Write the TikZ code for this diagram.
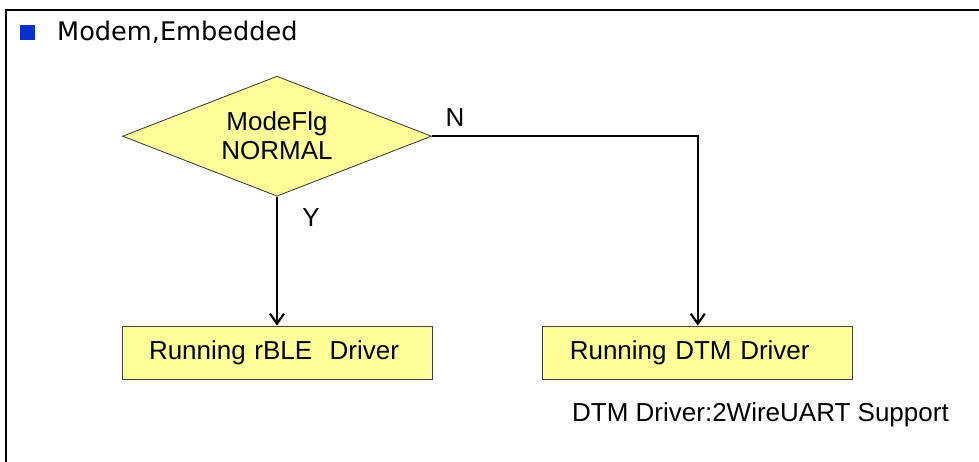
\documentclass[tikz,border=0pt]{standalone}
\usepackage{fontspec}
\setmainfont{Liberation Sans}
\newfontfamily\titlefont{DejaVu Sans}
\usepackage{tikz}
\usetikzlibrary{arrows.meta,positioning,shapes.geometric}
\definecolor{flowyellow}{HTML}{FFFF99}
\definecolor{bulletblue}{RGB}{8,48,204}
\tikzset{
  drvbox/.style={draw=black!75, line width=0.8pt, fill=flowyellow, align=left,
              text width=256pt, inner xsep=27pt, inner ysep=0pt,
              minimum height=53pt, font=\fontsize{26}{30}\selectfont},
  decide/.style={diamond, draw=black!80, line width=0.8pt, fill=flowyellow,
              align=center, aspect=2.575, inner sep=0pt,
              minimum width=309pt, minimum height=120pt,
              font=\fontsize{26}{29}\selectfont},
  lbl/.style={inner sep=0pt, font=\fontsize{26}{30}\selectfont},
  flow/.style={-{Straight Barb[length=10pt,width=14pt,line width=2.2pt]}, line width=2.2pt},
  frame/.style={line width=2pt},
}
\begin{document}
\begin{tikzpicture}[x=1pt, y=-1pt]
  \useasboundingbox (0,0) rectangle (979,462);
  % open frame: top and left edges only
  \coordinate (fTL) at (6,9.8);
  \coordinate (fTR) at (979,9.8);
  \coordinate (fBL) at (6,462);
  \draw[frame] (fTR) -- (fTL) -- (fBL);

  \node[fill=bulletblue, minimum size=15pt, inner sep=0pt] (bullet) at (27.5,32.5) {};
  \node[lbl, anchor=base west, font=\titlefont\fontsize{25.6}{30}\selectfont]
    (title) at (57,41) {Modem,Embedded};

  \node[drvbox] (rble) at (277,352.5) {Running rBLE\ \ Driver};
  \node[drvbox, right=110pt of rble] (dtm) {Running DTM Driver};
  \node[decide, above=129pt of rble] (cond) {ModeFlg\\ NORMAL};

  \draw[flow] (cond.south) -- (rble.north);
  \draw[flow] (cond.east) -| (dtm.north);

  \node[lbl, anchor=base] (lblN) at (455,127) {N};
  \node[lbl, anchor=base] (lblY) at (311,227) {Y};
  \node[lbl, anchor=base west] (note) at (572,421) {DTM Driver:2WireUART Support};
\end{tikzpicture}
\end{document}
